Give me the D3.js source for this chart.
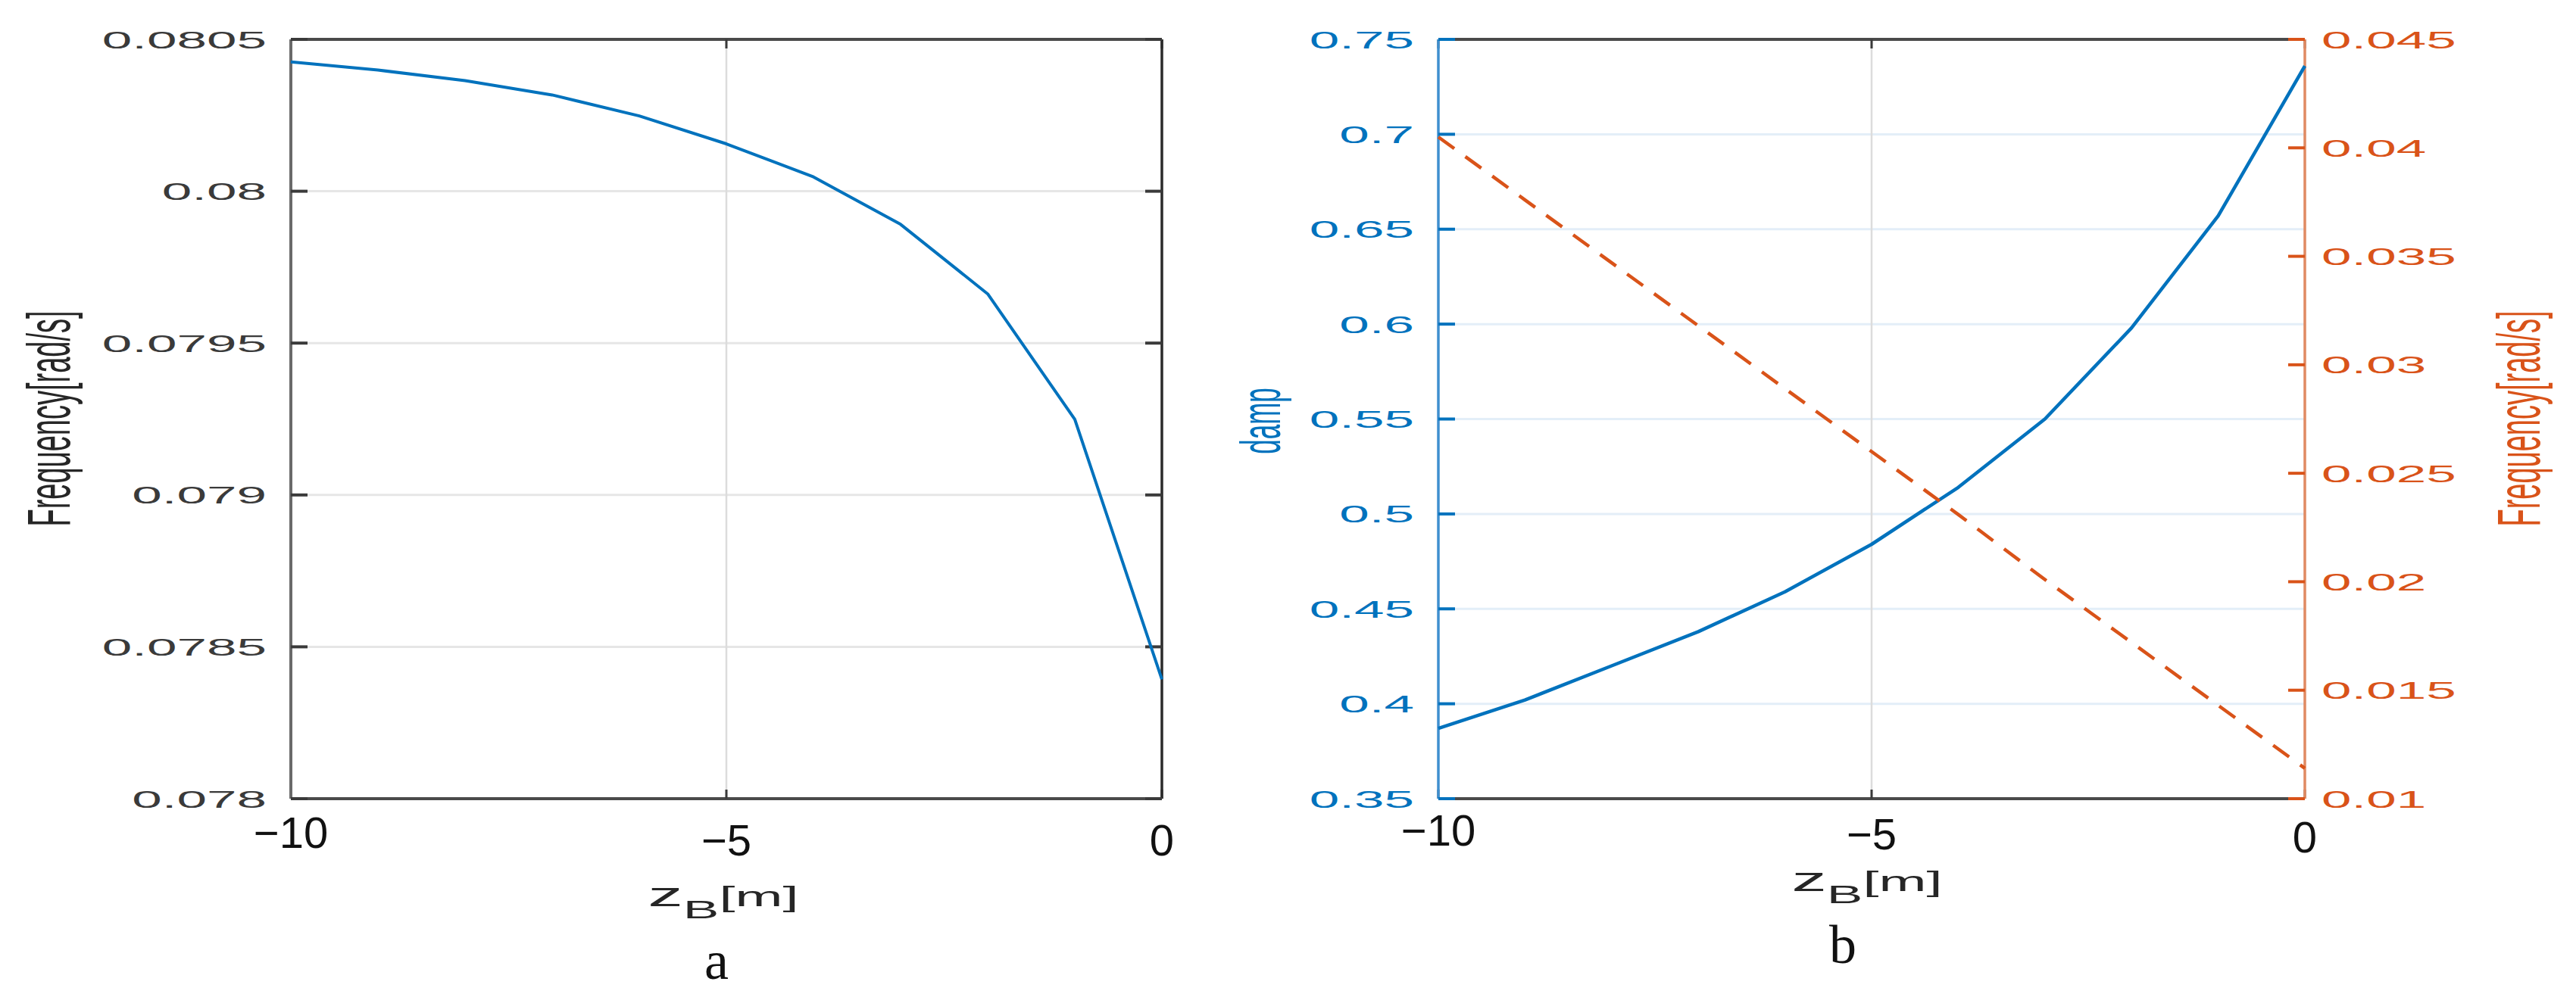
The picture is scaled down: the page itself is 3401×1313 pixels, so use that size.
<!DOCTYPE html>
<html><head><meta charset="utf-8">
<script src="https://cdn.jsdelivr.net/npm/d3@7"></script>
<style>body{margin:0;background:#fff}svg{display:block}</style>
</head><body>
<script>
// ---- data ----
const zB = [-10, -9, -8, -7, -6, -5, -4, -3, -2, -1, 0];
const freqA = [0.080426, 0.080399, 0.080364, 0.080317, 0.080248, 0.080156, 0.080047, 0.079891, 0.079662, 0.079249, 0.078393];
const damp = [0.387, 0.402, 0.420, 0.438, 0.459, 0.484, 0.514, 0.550, 0.598, 0.657, 0.736];
const freqB = [0.0405, 0.0376, 0.0347, 0.0318, 0.0289, 0.0260, 0.0231, 0.0201, 0.0172, 0.0143, 0.0114];

const xTicks = [-10, -5, 0];
const xTickLabels = ["\u221210", "\u22125", "0"];
const yTicksA = [0.078, 0.0785, 0.079, 0.0795, 0.08, 0.0805];
const yTickLabelsA = ["0.078", "0.0785", "0.079", "0.0795", "0.08", "0.0805"];
const yTicksDamp = [0.35, 0.4, 0.45, 0.5, 0.55, 0.6, 0.65, 0.7, 0.75];
const yTickLabelsDamp = ["0.35", "0.4", "0.45", "0.5", "0.55", "0.6", "0.65", "0.7", "0.75"];
const yTicksFreqB = [0.01, 0.015, 0.02, 0.025, 0.03, 0.035, 0.04, 0.045];
const yTickLabelsFreqB = ["0.01", "0.015", "0.02", "0.025", "0.03", "0.035", "0.04", "0.045"];

const BLUE = "#0072BD", ORANGE = "#D95319", DARK = "#262626";
const FONT = "'Liberation Sans', Arial, sans-serif";

const W = 3401, H = 1313;
const svg = d3.select("body").append("svg").attr("width", W).attr("height", H);

function panel(opt) {
  const g = svg.append("g");
  const x = d3.scaleLinear().domain([-10, 0]).range([opt.x0, opt.x1]);
  const yT = 52, yB = 1055;
  // gridlines
  opt.gridTicks.forEach(v => {
    const yy = opt.yGrid(v);
    if (Math.abs(yy - yT) < 2 || Math.abs(yy - yB) < 2) return;
    g.append("line").attr("x1", opt.x0).attr("x2", opt.x1).attr("y1", yy).attr("y2", yy)
      .attr("stroke", opt.gridColor).attr("stroke-width", 3);
  });
  g.append("line").attr("x1", x(-5)).attr("x2", x(-5)).attr("y1", yT).attr("y2", yB)
    .attr("stroke", "#dcdcdc").attr("stroke-width", 2.5);

  // top/bottom box
  [yT, yB].forEach(yy => g.append("line").attr("x1", opt.x0).attr("x2", opt.x1).attr("y1", yy).attr("y2", yy)
    .attr("stroke", "#4a4a4a").attr("stroke-width", 4));
  // x ticks top & bottom
  xTicks.forEach(v => {
    g.append("line").attr("x1", x(v)).attr("x2", x(v)).attr("y1", yB).attr("y2", yB - 12).attr("stroke", "#3a3a3a").attr("stroke-width", 3);
    g.append("line").attr("x1", x(v)).attr("x2", x(v)).attr("y1", yT).attr("y2", yT + 12).attr("stroke", "#3a3a3a").attr("stroke-width", 3);
  });
  // x tick labels
  xTicks.forEach((v, i) => {
    g.append("text").attr("x", x(v)).attr("y", opt.xLabBase[i]).attr("text-anchor", "middle")
      .attr("font-family", FONT).attr("font-size", 58).attr("fill", "#111").text(xTickLabels[i]);
  });
  // x axis title
  const t = g.append("text").attr("transform", `translate(${opt.titleCx},${opt.titleBase}) scale(2.1,1)`)
    .attr("text-anchor", "middle").attr("font-family", FONT).attr("fill", DARK);
  t.append("tspan").attr("font-size", 44).text("z");
  t.append("tspan").attr("font-size", 34).attr("dy", 16).text("B");
  t.append("tspan").attr("font-size", 36).attr("dy", -16).text("[m]");
  // panel letter
  g.append("text").attr("x", opt.letterX).attr("y", opt.letterBase).attr("text-anchor", "middle")
    .attr("font-family", "'Liberation Serif', 'Times New Roman', serif").attr("font-size", 72).attr("fill", "#111").text(opt.letter);
  return { g, x, yT, yB };
}

function yAxis(g, y, ticks, labels, xAxis, side, color, axisColor, axisWidth, labelX) {
  g.append("line").attr("x1", xAxis).attr("x2", xAxis).attr("y1", 52).attr("y2", 1055)
    .attr("stroke", axisColor).attr("stroke-width", axisWidth);
  ticks.forEach((v, i) => {
    const yy = y(v);
    const dir = side === "left" ? 1 : -1;
    g.append("line").attr("x1", xAxis).attr("x2", xAxis + dir * 22).attr("y1", yy).attr("y2", yy)
      .attr("stroke", color).attr("stroke-width", 4);
    if (labels) {
      g.append("text").attr("transform", `translate(${labelX},${yy}) scale(2.22,1)`)
        .attr("text-anchor", side === "left" ? "end" : "start").attr("dy", "0.36em")
        .attr("font-family", FONT).attr("font-size", 32).attr("fill", color).text(labels[i]);
    }
  });
}

function yTitle(text, bx, cy, size, color) {
  svg.append("text").attr("transform", `translate(${bx},${cy}) scale(2.1,1) rotate(-90)`)
    .attr("text-anchor", "middle").attr("font-family", FONT).attr("font-size", size).attr("fill", color).text(text);
}

// ---------- panel a ----------
const yA = d3.scaleLinear().domain([0.078, 0.0805]).range([1055, 52]);
const A = panel({ x0: 384, x1: 1534, yGrid: yA, gridTicks: yTicksA, gridColor: "#e6e6e6",
  xLabBase: [1120, 1130, 1130], titleCx: 955, titleBase: 1197, letter: "a", letterX: 946, letterBase: 1293 });
yAxis(A.g, yA, yTicksA, yTickLabelsA, 384, "left", "#3a3a3a", "#6a6a6a", 4, 352);
yAxis(A.g, yA, yTicksA, null, 1534, "right", "#3a3a3a", "#2a2a2a", 3.5, 0);
A.g.append("path").datum(zB.map((z, i) => [z, freqA[i]]))
  .attr("d", d3.line().x(d => A.x(d[0])).y(d => yA(d[1])))
  .attr("fill", "none").attr("stroke", BLUE).attr("stroke-width", 4).attr("stroke-linejoin", "round");
yTitle("Frequency[rad/s]", 92, 553, 38, DARK);

// ---------- panel b ----------
const yD = d3.scaleLinear().domain([0.35, 0.75]).range([1055, 52]);
const yF = d3.scaleLinear().domain([0.01, 0.045]).range([1055, 52]);
const B = panel({ x0: 1899, x1: 3043, yGrid: yD, gridTicks: yTicksDamp, gridColor: "#e3eef8",
  xLabBase: [1117, 1122, 1126], titleCx: 2465, titleBase: 1177, letter: "b", letterX: 2433, letterBase: 1272 });
yAxis(B.g, yD, yTicksDamp, yTickLabelsDamp, 1899, "left", BLUE, "#3f8fcf", 3.5, 1867);
yAxis(B.g, yF, yTicksFreqB, yTickLabelsFreqB, 3043, "right", ORANGE, "#e08a62", 3.5, 3065);
B.g.append("path").datum(zB.map((z, i) => [z, damp[i]]))
  .attr("d", d3.line().x(d => B.x(d[0])).y(d => yD(d[1])))
  .attr("fill", "none").attr("stroke", BLUE).attr("stroke-width", 4.5).attr("stroke-linejoin", "round");
B.g.append("path").datum(zB.map((z, i) => [z, freqB[i]]))
  .attr("d", d3.line().x(d => B.x(d[0])).y(d => yF(d[1])))
  .attr("fill", "none").attr("stroke", ORANGE).attr("stroke-width", 4.5).attr("stroke-dasharray", "26 18");
yTitle("damp", 1690, 556, 35, BLUE);
yTitle("Frequency[rad/s]", 3353, 553, 38, ORANGE);
</script>
</body></html>
